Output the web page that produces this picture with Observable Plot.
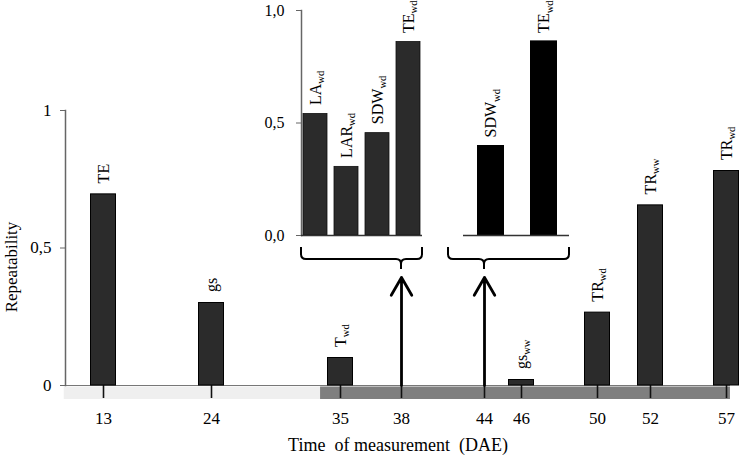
<!DOCTYPE html>
<html><head><meta charset="utf-8">
<script src="https://cdn.jsdelivr.net/npm/d3@7"></script>
<script src="https://cdn.jsdelivr.net/npm/@observablehq/plot@0.6"></script>
<style>
body{margin:0;background:#fff;}
#chart{position:relative;width:743px;height:463px;overflow:hidden;}
#chart svg{position:absolute;top:0;}
#chart text{white-space:pre;}
</style></head><body><div id="chart"></div>
<script>
// ---- data ----
const days = [13, 24, 35, 38, 44, 46, 50, 52, 57];            // x tick labels (DAE)
const mainDays = [13, 24, 35, 46, 50, 52, 57];
const mainTraits = ["TE", "gs", "T_wd", "gs_ww", "TR_wd", "TR_ww", "TR_wd"];
const mainValues = [0.695, 0.30, 0.10, 0.02, 0.265, 0.655, 0.78];
const inset38Traits = ["LA_wd", "LAR_wd", "SDW_wd", "TE_wd"];
const inset38Values = [0.54, 0.305, 0.455, 0.86];
const inset44Traits = ["SDW_wd", "TE_wd"];
const inset44Values = [0.40, 0.865];
const linkDays = [38, 44];
const phaseStart = [9.0, 33.3];
const phaseEnd = [33.3, 57.26];
const yTicks = [0, 0.5, 1];

// ---- layout (hand-spaced time axis of the original figure) ----
const dayPixels = [103, 211, 340, 401, 484, 521, 597, 650, 726];
const dayPos = d3.scaleLinear(days, dayPixels);
const FONT = "Liberation Serif, Times New Roman, serif";
const comma = d => String(d).replace(".", ",");
const comma1 = d => d.toFixed(1).replace(".", ",");

function subscriptify(svg) {
  d3.select(svg).selectAll("text").each(function () {
    const t = this.textContent;
    if (!t.includes("_")) return;
    const [base, sub] = t.split("_");
    const sel = d3.select(this);
    sel.text(null);
    sel.append("tspan").text(base);
    sel.append("tspan").attr("font-size", "0.66em").attr("dy", "0.35em").text(sub);
  });
}

const mainData = mainDays.map((d, i) => ({day: d, trait: mainTraits[i], value: mainValues[i]}));
const phases = phaseStart.map((s, i) => ({start: s, end: phaseEnd[i]}));

const main = Plot.plot({
  width: 743, height: 463,
  marginLeft: 65, marginRight: 13, marginTop: 110, marginBottom: 78,
  style: {fontFamily: FONT, fontSize: "16px", background: "none", color: "#000"},
  x: {type: "linear", domain: [0, 743], range: [0, 743], transform: dayPos, axis: null},
  y: {domain: [0, 1], axis: null},
  marks: [
    Plot.rect(phases.slice(0, 1), {x1: "start", x2: "end", y1: 0, y2: 0, insetTop: 1.5, insetBottom: -14, fill: "#efefef"}),
    Plot.rect(phases.slice(1), {x1: "start", x2: "end", y1: 0, y2: 0, insetTop: 1.5, insetBottom: -14, fill: "#7f7f7f"}),
    Plot.ruleY([0], {stroke: "#777", strokeWidth: 1.2}),
    Plot.frame({anchor: "left", stroke: "#666", strokeWidth: 1.5}),
    Plot.axisY({ticks: yTicks, tickFormat: comma, tickSize: 5, tickPadding: 9, fontSize: 17, stroke: "#666", fill: "#000", label: null}),
    // x ticks and tick labels (drawn through the transformed x scale)
    Plot.ruleX(days, {x: d => d, y1: 0, y2: 0, insetTop: 0, insetBottom: -13, stroke: "#111", strokeWidth: 1.6}),
    Plot.text(days, {x: d => d, y: 0, dy: 33, text: d => String(d), fontSize: 17, fill: "#000"}),
    Plot.rect(mainData, {x1: "day", x2: "day", y1: 0, y2: "value", insetLeft: -12.5, insetRight: -12.5, fill: "#2b2b2b", stroke: "#000", strokeWidth: 1}),
    Plot.text(mainData, {x: "day", y: "value", text: "trait", rotate: -90, textAnchor: "start", dy: -11, fontSize: 16, fill: "#000"}),
    Plot.arrow(linkDays, {x1: d => d, x2: d => d, y1: 0, y2: 0.393, stroke: "#000", strokeWidth: 2.8, headLength: 11, headAngle: 60}),
    Plot.text(["Repeatability"], {frameAnchor: "left", textAnchor: "middle", lineAnchor: "middle", rotate: -90, dx: -54, dy: 19, fontSize: 17, fill: "#000"}),
    Plot.text(["Time  of measurement  (DAE)"], {frameAnchor: "bottom", textAnchor: "middle", lineAnchor: "middle", dy: 60, fontSize: 18, fill: "#000"})
  ]
});
subscriptify(main);
document.getElementById("chart").appendChild(main);
main.style.left = "0px";

function brace(cuspDay, offsetLeft) {
  return (index, scales, values, dims) => {
    const left = dims.marginLeft, right = dims.width - dims.marginRight;
    const y0 = scales.y(0);
    const top = y0 + 12, yh = y0 + 24, bottom = y0 + 34, r = 5;
    const cx = dayPos(cuspDay) - offsetLeft;
    const p = d3.path();
    p.moveTo(left, top); p.lineTo(left, yh - r); p.quadraticCurveTo(left, yh, left + r, yh);
    p.lineTo(cx - r, yh); p.quadraticCurveTo(cx, yh, cx, yh + r); p.lineTo(cx, bottom);
    p.moveTo(cx, yh + r); p.quadraticCurveTo(cx, yh, cx + r, yh);
    p.lineTo(right - r, yh); p.quadraticCurveTo(right, yh, right, yh - r); p.lineTo(right, top);
    return d3.create("svg:path").attr("d", p.toString()).attr("fill", "none")
      .attr("stroke", "#000").attr("stroke-width", 2).node();
  };
}

// ---- inset for 38 DAE ----
const in1Left = 250;
const in1Data = inset38Traits.map((t, i) => ({trait: t, value: inset38Values[i]}));
const inset1 = Plot.plot({
  width: 176, height: 285,
  marginLeft: 51, marginRight: 4, marginTop: 10, marginBottom: 50,
  style: {fontFamily: FONT, fontSize: "16px", background: "none", color: "#000"},
  x: {domain: inset38Traits, paddingInner: 0.23, paddingOuter: 0.04, axis: null},
  y: {domain: [0, 1], axis: null},
  marks: [
    Plot.frame({anchor: "left", stroke: "#666", strokeWidth: 1.5}),
    Plot.axisY({ticks: yTicks, tickFormat: comma1, tickSize: 5, tickPadding: 12, fontSize: 16, stroke: "#666", fill: "#000", label: null}),
    Plot.barY(in1Data, {x: "trait", y: "value", fill: "#2b2b2b", stroke: "#111", strokeWidth: 0.8}),
    Plot.ruleY([0], {stroke: "#333", strokeWidth: 1.5}),
    Plot.text(in1Data, {x: "trait", y: "value", text: "trait", rotate: -90, textAnchor: "start", dy: -9, fontSize: 16, fill: "#000"}),
    brace(38, in1Left)
  ]
});
subscriptify(inset1);
document.getElementById("chart").appendChild(inset1);
inset1.style.left = in1Left + "px";

// ---- inset for 44 DAE ----
const in2Left = 400;
const in2Data = inset44Traits.map((t, i) => ({trait: t, value: inset44Values[i]}));
const inset2 = Plot.plot({
  width: 174, height: 285,
  marginLeft: 48, marginRight: 5, marginTop: 10, marginBottom: 50,
  style: {fontFamily: FONT, fontSize: "16px", background: "none", color: "#000"},
  x: {domain: inset44Traits, paddingInner: 0.5, paddingOuter: 0.39, align: 0.7, axis: null},
  y: {domain: [0, 1], axis: null},
  marks: [
    Plot.barY(in2Data, {x: "trait", y: "value", fill: "#000"}),
    Plot.ruleY([0], {insetLeft: 15, stroke: "#333", strokeWidth: 1.5}),
    Plot.text(in2Data, {x: "trait", y: "value", text: "trait", rotate: -90, textAnchor: "start", dy: -8, fontSize: 16, fill: "#000"}),
    brace(44, in2Left)
  ]
});
subscriptify(inset2);
document.getElementById("chart").appendChild(inset2);
inset2.style.left = in2Left + "px";
</script></body></html>
